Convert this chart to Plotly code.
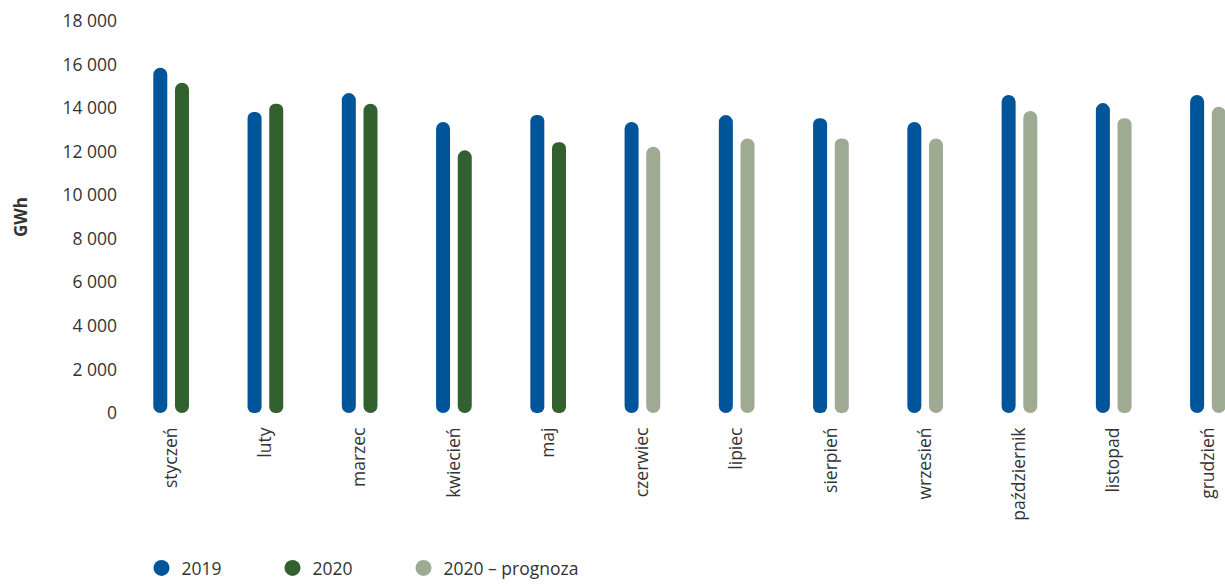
import plotly.graph_objects as go

months = ["styczeń", "luty", "marzec", "kwiecień", "maj", "czerwiec", "lipiec",
          "sierpień", "wrzesień", "październik", "listopad", "grudzień"]
v2019 = [15850, 13820, 14690, 13360, 13680, 13360, 13680, 13540, 13360, 14600, 14230, 14600]
v2020 = [15170, 14200, 14200, 12060, 12430, None, None, None, None, None, None, None]
v2020_prog = [None, None, None, None, None, 12230, 12610, 12610, 12610, 13870, 13540, 14060]

C2019 = "#00549a"
C2020 = "#32612f"
CPROG = "#9eaa92"

W = 0.1485
series = [
    ("2019", v2019, C2019, -0.19, "legend", 162),
    ("2020", v2020, C2020, 0.040, "legend2", 293),
    ("2020 – prognoza", v2020_prog, CPROG, 0.040, "legend3", 424),
]

fig = go.Figure()
for name, vals, col, off, lg, _ in series:
    base = [None if v is None else 0 for v in vals]
    fig.add_trace(go.Bar(x=months, y=vals, base=base, offset=off, width=W,
                         marker=dict(color=col, cornerradius=7, line=dict(width=0)),
                         showlegend=False, hoverinfo="skip"))
    fig.add_trace(go.Scatter(x=[None], y=[None], mode="markers", name=name, legend=lg,
                             marker=dict(symbol="circle", size=16, color=col)))

FONT = "Open Sans"
legends = {}
for name, vals, col, off, lg, cx in series:
    legends[lg] = dict(orientation="h", xref="container", yref="container",
                       x=(cx - 20.5) / 1225, y=0, xanchor="left", yanchor="bottom",
                       font=dict(size=17.5), itemsizing="trace", bgcolor="rgba(0,0,0,0)")

fig.update_layout(
    width=1225, height=586,
    margin=dict(l=118, r=0, t=21, b=173),
    barmode="overlay",
    plot_bgcolor="white", paper_bgcolor="white",
    separators=", ",
    font=dict(family=FONT, color="#333333", size=17),
    xaxis=dict(type="category", range=[-0.5645, 11.18], showgrid=False, zeroline=False,
               showline=False, ticks="", tickangle=-90, tickfont=dict(size=17.5),
               ticklabelstandoff=10),
    yaxis=dict(range=[0, 18000], dtick=2000, tickformat=",", showgrid=False,
               zeroline=False, showline=False, ticks="", tickfont=dict(size=17.5),
               title=dict(text="<b>GWh</b>", font=dict(size=17, color="#333333"), standoff=30)),
    **legends,
)

fig.write_html("out.html")
